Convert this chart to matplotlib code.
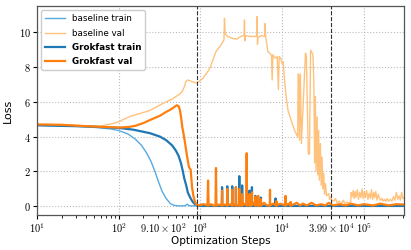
import matplotlib
matplotlib.use("Agg")
import matplotlib.pyplot as plt
import matplotlib.transforms as mtransforms
from matplotlib.ticker import NullFormatter, LogLocator

plt.rcParams['mathtext.fontset'] = 'cm'
plt.rcParams['font.family'] = ['DejaVu Sans']

# ---------------- data ----------------
bt_steps = [10, 20, 40, 60, 80, 100, 130, 160, 190, 220, 250, 280, 310, 340, 380, 430, 480,
            550, 650, 690, 730, 900, 310000]
bt_vals = [4.65, 4.63, 4.57, 4.5, 4.44, 4.35, 4.15, 3.85, 3.5, 3.05, 2.55, 1.95, 1.35, 0.85, 0.45, 0.15, 0.05,
           0.02, 0.03, 0.12, 0.03, 0.02, 0.02]

bv_steps = [10, 20, 40, 60, 85, 100, 135, 180, 240, 300, 381, 450, 500, 560, 600, 640, 660, 700, 750,
            850, 900, 950, 1070, 1300, 1550, 1780, 1940, 1970, 2010, 2150, 2450, 2800, 3000, 3300,
            3420, 3460, 3490, 3530, 4000, 4700, 4900, 4950, 4990, 5050, 5600, 6100, 6200, 6300,
            6700, 7000, 7400, 7550, 7700, 8200, 8700, 9000, 9200, 9600, 10000, 10300, 10700, 11200,
            11800, 12900, 14200, 15500, 15700, 16000, 16300, 16700, 17200, 19300, 19800, 20900,
            21600, 22300, 23800, 24400, 25000, 25500, 26000, 26800, 27300, 28000, 28500, 29400,
            30000, 30800, 31500, 32300, 33000, 33900, 35000, 37200, 38000, 39000, 40500, 42800,
            45000, 47000, 50000, 53000, 56000, 59000, 62000, 66000, 69000, 70000, 72000, 74000,
            76000, 78000, 80000, 83000, 86000, 89000, 92000, 95000, 98000, 101000, 104000, 108000,
            112000, 116000, 120000, 124000, 128000, 132000, 136000, 140000, 145000, 150000, 155000,
            160000, 166000, 172000, 178000, 185000, 192000, 200000, 210000, 220000, 230000, 240000,
            250000, 260000, 270000, 280000, 290000, 300000, 310000]
bv_vals = [4.7, 4.68, 4.62, 4.6, 4.75, 4.85, 5.15, 5.32, 5.5, 5.75, 6.0, 6.15, 6.3, 6.45, 6.6, 6.9, 7.15,
           7.25, 7.2, 7.1, 7.1, 7.15, 7.34, 7.9, 8.88, 9.26, 9.55, 10.8, 9.9, 9.75, 9.65, 9.6, 9.7, 9.8,
           9.8, 10.7, 9.5, 9.8, 9.75, 9.75, 9.8, 10.9, 9.3, 9.7, 9.8, 9.75, 10.5, 9.7,
           8.87, 8.8, 8.68, 7.25, 8.7, 8.5, 8.6, 6.7, 8.6, 8.5, 8.2, 8.3, 7.25, 6.28,
           5.5, 4.94, 4.36, 3.98, 7.6, 7.5, 3.79, 7.6, 3.6, 8.8, 8.6, 3.0,
           3.0, 8.97, 8.7, 7.3, 2.5, 6.3, 2.0, 5.13, 1.8, 4.36, 1.5, 3.6,
           1.2, 2.82, 1.0, 1.88, 0.7, 1.3, 0.6, 0.73, 0.4, 0.52, 0.35, 0.3,
           0.45, 0.2, 0.3, 0.15, 0.35, 0.12, 0.25, 0.15, 0.3, 0.8, 0.55, 0.9,
           0.45, 0.85, 0.5, 0.95, 0.4, 0.8, 0.5, 1.0, 0.45, 0.85, 0.5, 0.9,
           0.4, 0.75, 0.45, 0.95, 0.4, 0.8, 0.5, 0.85, 0.35, 0.7, 0.45,
           0.35, 0.45, 0.3, 0.4, 0.28, 0.45, 0.3, 0.4, 0.3, 0.55, 0.35,
           0.8, 0.4, 0.6, 0.35, 0.8, 0.45, 0.5]

gt_steps = [10, 30, 60, 100, 150, 240, 320, 380, 450, 500, 540, 576, 610, 634, 670, 700, 750, 805,
            870, 930, 1000, 1830, 1840, 1850, 2120, 2130, 2140, 2440, 2450, 2460, 2710, 2720, 2730,
            2980, 2990, 3000, 3230, 3240, 3250, 3970, 3980, 3990, 4260, 4270, 4280, 4690, 4700, 4710,
            5490, 5500, 5510, 8290, 8300, 8310, 310000]
gt_vals = [4.65, 4.6, 4.55, 4.5, 4.4, 4.2, 4.0, 3.8, 3.5, 3.2, 2.9, 2.5, 2.0, 1.6, 1.2, 0.8, 0.5, 0.25,
           0.1, 0.04, 0.02, 0.02, 1.1, 0.02, 0.02, 1.15, 0.02, 0.02, 1.15, 0.02, 0.02, 1.1, 0.02,
           0.02, 1.73, 0.02, 0.02, 1.2, 0.02, 0.02, 0.9, 0.02, 0.02, 1.1, 0.02, 0.02, 0.6, 0.02,
           0.02, 0.5, 0.02, 0.02, 0.45, 0.02, 0.02]

gv_steps = [10, 20, 40, 70, 100, 130, 160, 200, 263, 320, 381, 430, 479, 513, 540, 560, 580, 600, 630,
            660, 690, 724, 760, 790, 820, 850, 890, 950, 1000, 1100, 1220, 1240, 1260, 1350, 1450,
            1530, 1550, 1570, 1700, 1820, 1840, 1860, 1980, 2110, 2130, 2150, 2300, 2430, 2450, 2470,
            2600, 2700, 2720, 2740, 2970, 2990, 3010, 3220, 3240, 3260, 3400, 3660, 3680, 3700, 3850,
            3960, 3980, 4000, 4250, 4270, 4290, 4500, 4680, 4700, 4720, 5080, 5100, 5120, 5480, 5500,
            5520, 6000, 6500, 7080, 7100, 7120, 7800, 8480, 8500, 8520, 9500, 10980, 11000, 11020,
            12000, 12680, 12700, 12720, 14000, 15100, 16500, 18000, 20000, 23000, 26000, 30000, 34000,
            37000, 42000, 50000, 60000, 70000, 85000, 100000, 130000, 160000, 200000, 250000, 310000]
gv_vals = [4.7, 4.68, 4.6, 4.55, 4.52, 4.55, 4.62, 4.78, 5.03, 5.2, 5.42, 5.55, 5.7, 5.8, 5.75, 5.55, 5.1,
           4.55, 4.0, 3.4, 2.8, 2.25, 2.1, 1.1, 0.6, 0.33, 0.1, 0.05, 0.08, 0.12, 0.05, 1.48, 0.05,
           0.12, 0.04, 0.05, 2.2, 0.05, 0.1, 0.05, 0.9, 0.05, 0.1, 0.05, 1.0, 0.05, 0.12, 0.05, 0.95,
           0.05, 0.1, 0.05, 1.1, 0.05, 0.05, 1.0, 0.05, 0.05, 0.7, 0.05, 0.15, 0.05, 3.05, 0.05, 0.2,
           0.05, 0.7, 0.05, 0.05, 0.8, 0.1, 0.2, 0.05, 0.55, 0.05, 0.05, 0.6, 0.05, 0.05, 0.4,
           0.05, 0.2, 0.05, 0.05, 0.95, 0.05, 0.15, 0.05, 0.3, 0.05, 0.15, 0.05, 0.6, 0.05,
           0.15, 0.05, 0.25, 0.05, 0.12, 0.2, 0.05, 0.15, 0.05, 0.2, 0.05, 0.12, 0.05,
           0.2, 0.05, 0.12, 0.05, 0.15, 0.05, 0.12, 0.05, 0.15, 0.05, 0.12, 0.1]

marker_steps = [910, 39900]
xtick_vals = [10, 100, 910, 1000, 10000, 39900, 100000]
xtick_labels = [r'$10^{1}$', r'$10^{2}$', r'$9.10\times10^{2}$', r'$10^{3}$',
                r'$10^{4}$', r'$3.99\times10^{4}$', r'$10^{5}$']
ytick_vals = [0, 2, 4, 6, 8, 10]

# ---------------- plot ----------------
fig = plt.figure(figsize=(4.11, 2.5), dpi=100)
ax = fig.add_axes([0.09, 0.14, 0.893, 0.836])

ax.plot(bt_steps, bt_vals, color='#55aae0', lw=1.0, label='baseline train')
ax.plot(bv_steps, bv_vals, color='#ffc27c', lw=1.0, label='baseline val')
ax.plot(gt_steps, gt_vals, color='#1f77b4', lw=1.6, label='Grokfast train')
ax.plot(gv_steps, gv_vals, color='#ff7f0e', lw=1.6, label='Grokfast val')

for s in marker_steps:
    ax.axvline(s, color='#333333', ls='--', lw=0.8, zorder=5)

ax.set_xscale('log')
ax.set_xlim(10, 3.1e5)
ax.set_ylim(-0.5, 11.5)
ax.set_xticks(xtick_vals)
ax.set_xticklabels(xtick_labels, fontsize=7.5)
ax.xaxis.set_minor_locator(LogLocator(base=10, subs=range(2, 10), numticks=20))
ax.xaxis.set_minor_formatter(NullFormatter())
ax.set_yticks(ytick_vals)
ax.set_yticklabels([r'$%d$' % v for v in ytick_vals], fontsize=7.5)
ax.tick_params(axis='both', which='major', length=3, width=0.8, pad=1.5)
ax.tick_params(axis='both', which='minor', length=1.8, width=0.6)

# shift the 9.10x10^2 label left so it does not collide with 10^3
lab = ax.get_xticklabels()[2]
lab.set_horizontalalignment('right')
lab.set_transform(lab.get_transform() + mtransforms.ScaledTranslation(-8 / 72, 0, fig.dpi_scale_trans))

ax.grid(True, which='major', ls=':', color='#bbbbbb', lw=0.8)
for sp in ax.spines.values():
    sp.set_color('#555555')
    sp.set_linewidth(0.9)

ax.set_xlabel('Optimization Steps', fontsize=7.5, labelpad=1)
ax.set_ylabel('Loss', fontsize=8, labelpad=4)

leg = ax.legend(loc='upper left', fontsize=6.3, handlelength=2.2, borderpad=0.45,
                labelspacing=0.6, framealpha=1.0, edgecolor='#cccccc', fancybox=True)
for t in leg.get_texts()[2:]:
    t.set_fontweight('bold')

fig.savefig('out.png', dpi=100)
